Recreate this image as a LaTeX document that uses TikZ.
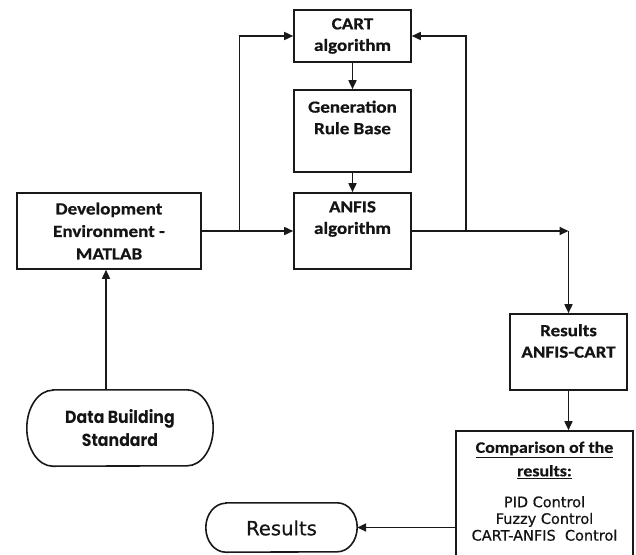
\documentclass[tikz,border=0pt]{standalone}
\usepackage{fontspec}
\setmainfont{Carlito}[FakeStretch=1.12, BoldFeatures={FakeBold=0.6}]
\newfontfamily\datafont{Poppins}[FakeStretch=0.9]
\newfontfamily\listfont{DejaVu Sans}[FakeBold=0.5]
\usetikzlibrary{arrows.meta,calc}
\tikzset{
  box/.style={draw=black!90, line width=1.6pt, rectangle, inner sep=0pt},
  ghost/.style={draw=none, rectangle, inner sep=0pt},
  lbl/.style={align=center, inner sep=0pt, text=black!92, font=\bfseries\fontsize{17}{21.5}\selectfont},
  arr/.style={draw=black!90, line width=1.6pt, -{Triangle[length=9pt,width=8pt]}},
  ln/.style={draw=black!90, line width=1.6pt},
}
\begin{document}
\begin{tikzpicture}[x=1pt,y=-1pt]
\clip (0,0) rectangle (636,554);
\fill[white] (0,0) rectangle (636,554);
% boxes
\node[box, minimum width=117, minimum height=52] (cart) at (352.5,36) {};
\node[box, minimum width=117, minimum height=82] (gen) at (352.5,131) {};
\node[box, minimum width=117, minimum height=76] (anfis) at (352.5,231) {};
\node[box, minimum width=184, minimum height=76] (dev) at (109,231) {};
\node[box, minimum width=117, minimum height=76] (res) at (568.5,352) {};
\node[box, minimum width=177, minimum height=149] (comp) at (544.5,505.5) {};
\node[ghost, minimum width=186, minimum height=76] (data) at (120,428) {};
\node[ghost, minimum width=151, minimum height=49] (fin) at (281.5,527.5) {};
% pill outlines
\draw[ln] ([xshift=26pt]data.north west) -- ([xshift=-26pt]data.north east)
  arc[start angle=90, end angle=-90, x radius=26pt, y radius=38pt]
  -- ([xshift=26pt]data.south west)
  arc[start angle=270, end angle=90, x radius=26pt, y radius=38pt] -- cycle;
\draw[ln] ([xshift=20pt]fin.north west) -- ([xshift=-20pt]fin.north east)
  arc[start angle=90, end angle=-90, x radius=20pt, y radius=24.5pt]
  -- ([xshift=20pt]fin.south west)
  arc[start angle=270, end angle=90, x radius=20pt, y radius=24.5pt] -- cycle;
% texts
\node[lbl] (tcart) at (352.5,36) {CART\\algorithm};
\node[lbl] (tgen) at (352.5,117.5) {Generation\\Rule Base};
\node[lbl] (tanfis) at (352.5,219) {ANFIS\\algorithm};
\node[lbl, font=\bfseries\fontsize{17}{22.5}\selectfont] (tdev) at (109,231) {Development\\Environment -\\MATLAB};
\node[lbl] (tres) at (568.5,341) {Results\\ANFIS-CART};
\node[lbl, font=\bfseries\fontsize{16}{23.5}\selectfont] (tcomp) at (544.5,460) {\underline{Comparison of the}\\\underline{results:}};
\node[lbl, font=\listfont\fontsize{14.5}{16.7}\selectfont] (tlist) at (544.5,518.5) {PID Control\\Fuzzy Control\\CART-ANFIS\ \ Control};
\node[lbl, font=\datafont\bfseries\fontsize{17.5}{23.3}\selectfont] (tdata) at (120,428) {Data Building\\Standard};
\node[lbl, font=\listfont\fontsize{19.6}{24}\selectfont] (tfin) at (281.5,528) {Results};
% connectors
\coordinate (v) at (106,0);
\draw[arr] (data.north -| v) -- (dev.south -| v);
\draw[arr] (cart.south) -- (gen.north);
\draw[arr] (gen.south) -- (anfis.north);
\draw[arr] (dev.east) -- (anfis.west);
\coordinate (jl) at (239.5,231);
\coordinate (jr) at (466,231);
\coordinate (corner) at (568.5,231);
\draw[arr] (jl) |- (cart.west);
\draw[arr] (jr) |- (cart.east);
\draw[arr] (anfis.east) -- (corner);
\draw[arr] (corner) -- (res.north);
\draw[arr] (res.south) -- (res.south |- comp.north);
\draw[arr] (comp.west |- fin.east) -- (fin.east);
\end{tikzpicture}
\end{document}
